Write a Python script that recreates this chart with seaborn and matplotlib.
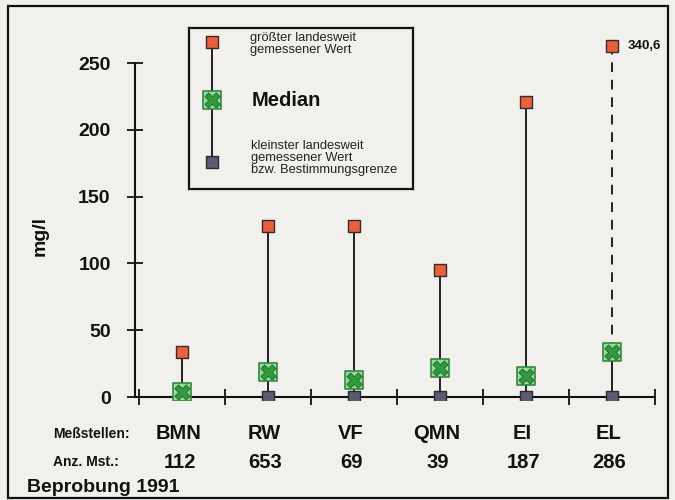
import matplotlib
matplotlib.use("Agg")
import matplotlib.pyplot as plt
import seaborn as sns
import pandas as pd
from matplotlib.patches import Rectangle

categories = ["BMN", "RW", "VF", "QMN", "EI", "EL"]
counts = ["112", "653", "69", "39", "187", "286"]
max_vals = [34, 128, 128, 95, 221, 340.6]
median_vals = [4, 19, 13, 22, 16, 34]
min_vals = [0, 0, 0, 0, 0, 0]
y_ticks = [0, 50, 100, 150, 200, 250]
axis_top = 250
drawn_cap = 263  # where the off-scale maximum is drawn

sns.set_theme(style="white")
plt.rcParams['font.family'] = ['Liberation Sans', 'DejaVu Sans']
BG = "#f1f0ec"
INK = "#111111"

fig = plt.figure(figsize=(6.75, 5.0), dpi=100, facecolor=BG)
ax = fig.add_axes([0.2, 0.2006, 0.77, 0.7214])
ax.set_facecolor("none")

pos = list(range(len(categories)))
shown_max = [min(v, drawn_cap) for v in max_vals]
df = pd.DataFrame({"pos": pos, "cat": categories, "max": shown_max,
                   "median": median_vals, "min": min_vals})

# vertical lines
for p, mx, md, mn, raw in zip(pos, shown_max, median_vals, min_vals, max_vals):
    if raw > axis_top:
        ax.vlines(p, mn, md, color="#222222", lw=1.4, zorder=2)
        ax.vlines(p, md, mx, color="#222222", lw=1.4, linestyles=(0, (5, 4)), zorder=2)
    else:
        ax.vlines(p, mn, mx, color="#222222", lw=1.4, zorder=2)

sns.scatterplot(data=df, x="pos", y="max", marker="s", s=70, color="#e8603c",
                edgecolor="#3a2a2a", linewidth=1.0, ax=ax, zorder=4, legend=False)
sns.scatterplot(data=df, x="pos", y="min", marker="s", s=70, color="#5b5a70",
                edgecolor="#2a2a33", linewidth=1.0, ax=ax, zorder=4, legend=False)
sns.scatterplot(data=df, x="pos", y="median", marker="s", s=170, color="#9fd6a0",
                edgecolor="#2f8a3c", linewidth=1.2, ax=ax, zorder=4, legend=False)
sns.scatterplot(data=df, x="pos", y="median", marker="X", s=120, color="#2f9a3f",
                edgecolor="#1f6a2a", linewidth=0.6, ax=ax, zorder=5, legend=False)

ax.set_xlim(-0.55, 5.5)
ax.set_ylim(-2, 268)

# spines
for s in ["top", "right"]:
    ax.spines[s].set_visible(False)
ax.spines["left"].set_bounds(0, axis_top)
ax.spines["bottom"].set_position(("data", 0))
ax.spines["left"].set_position(("data", -0.55))
for s in ["left", "bottom"]:
    ax.spines[s].set_color(INK)
    ax.spines[s].set_linewidth(1.5)

ax.set_yticks(y_ticks)
ax.set_yticklabels([str(t) for t in y_ticks], fontsize=14, fontweight="bold", color=INK)
ax.tick_params(axis="y", direction="inout", length=11, width=1.3, color=INK, pad=12, left=True)
ax.set_xticks([-0.5, 0.5, 1.5, 2.5, 3.5, 4.5, 5.5])
ax.set_xticklabels([])
ax.tick_params(axis="x", direction="inout", length=12, width=1.3, color=INK, bottom=True)
ax.set_xlabel("")
ax.set_ylabel("")
fig.text(40 / 675, 1 - 236 / 500, "mg/l", rotation=90, ha="center", va="center",
         fontsize=14, fontweight="bold", color=INK)

# category labels and counts below axis
for p, c, n in zip(pos, categories, counts):
    ax.text(p - 0.04, -27, c, ha="center", va="center", fontsize=14.5, fontweight="bold", color=INK)
    ax.text(p - 0.03, -49, n, ha="center", va="center", fontsize=14.5, fontweight="bold", color=INK)
fig.text(53 / 675, 1 - 434 / 500, "Meßstellen:", ha="left", va="center", fontsize=10,
         fontweight="bold", color=INK)
fig.text(53 / 675, 1 - 462 / 500, "Anz. Mst.:", ha="left", va="center", fontsize=10,
         fontweight="bold", color=INK)
fig.text(27 / 675, 1 - 487 / 500, "Beprobung 1991", ha="left", va="center", fontsize=14,
         fontweight="bold", color=INK)

# off-scale value label
ax.text(5 + 0.18, drawn_cap, "340,6", ha="left", va="center", fontsize=9.5,
        fontweight="bold", color=INK)

# legend box
lg = fig.add_axes([189 / 675, 1 - 189 / 500, 224 / 675, 161 / 500])
lg.set_xlim(0, 224)
lg.set_ylim(161, 0)
lg.set_facecolor("none")
lg.set_xticks([]); lg.set_yticks([])
for s in lg.spines.values():
    s.set_color(INK); s.set_linewidth(1.6)
lg.plot([23, 23], [14, 134], color="#222222", lw=1.4, zorder=1)
lg.scatter([23], [14], marker="s", s=70, color="#e8603c", edgecolor="#3a2a2a", lw=1.0, zorder=3)
lg.scatter([23], [72], marker="s", s=170, color="#9fd6a0", edgecolor="#2f8a3c", lw=1.2, zorder=3)
lg.scatter([23], [72], marker="X", s=120, color="#2f9a3f", edgecolor="#1f6a2a", lw=0.6, zorder=4)
lg.scatter([23], [134], marker="s", s=70, color="#5b5a70", edgecolor="#2a2a33", lw=1.0, zorder=3)
lg.text(61, 16, "größter landesweit\ngemessener Wert", ha="left", va="center",
        fontsize=9.3, color="#222222", linespacing=1.0)
lg.text(63, 73, "Median", ha="left", va="center", fontsize=14.5, fontweight="bold", color=INK)
lg.text(62, 130, "kleinster landesweit\ngemessener Wert\nbzw. Bestimmungsgrenze", ha="left",
        va="center", fontsize=9.3, color="#222222", linespacing=1.0)

# outer frame
fig.add_artist(Rectangle((8 / 675, 0.005), 660 / 675, 0.983, transform=fig.transFigure,
                         fill=False, edgecolor=INK, lw=1.6))

fig.savefig("out.png", dpi=100, facecolor=BG)
